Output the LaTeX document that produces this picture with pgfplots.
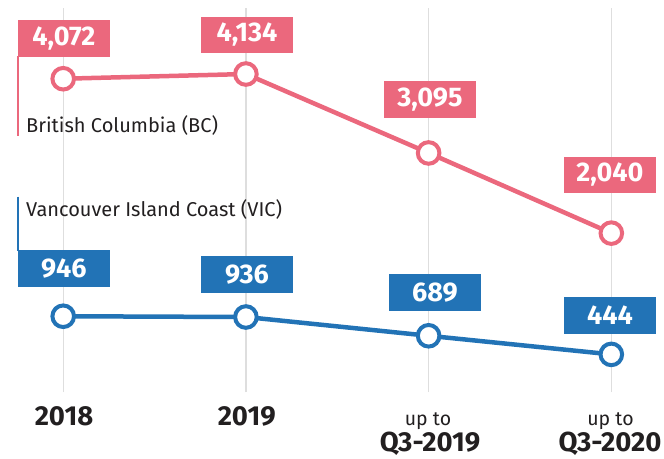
\documentclass[border=0pt]{standalone}
\usepackage{pgfplots}
\pgfplotsset{compat=1.18}
\usepackage{pgfplotstable}
\usepackage{fontspec}
\setmainfont{Fira Sans}
\definecolor{bcpink}{RGB}{235,104,125}
\definecolor{vicblue}{RGB}{34,115,182}
\definecolor{gridgray}{RGB}{222,222,222}
\definecolor{txt}{RGB}{34,31,32}

% x: category index, y: value, dx/dy: label box offset (bp)
\pgfplotstableread{
x y dx dy
0 4072 0.7 40.4
1 4134 1.0 39.0
2 3095 1.3 53.5
3 2040 -1.4 58.1
}\bcdata
\pgfplotstableread{
x y dx dy
0 946 0.7 47.8
1 936 1.1 42.6
2 689 6.3 43.4
3 444 -1.4 39.2
}\vicdata

\begin{document}
\begin{tikzpicture}
\begin{axis}[
  scale only axis,
  width=664bp, height=384bp,
  xmin=-0.3459, xmax=3.2884,
  ymin=-51, ymax=5003,
  axis line style={draw=none},
  xtick={0,1,2,3}, xticklabels={},
  ytick=\empty,
  major tick length=0pt,
  xmajorgrids,
  grid style={gridgray, line width=1.3bp},
  clip=false,
  point meta=explicit,
  /pgf/number format/.cd, 1000 sep={,}, fixed, precision=0,
]
\coordinate (O) at (rel axis cs:0,1);
\addplot[bcpink, line width=4.5bp, mark=*, mark size=10.8bp,
  mark options={fill=white, draw=bcpink, line width=4bp},
  visualization depends on={\thisrow{dx} \as \dx},
  visualization depends on={\thisrow{dy} \as \dy},
  nodes near coords={\pgfmathprintnumber[assume math mode=true]{\pgfplotspointmeta}},
  nodes near coords style={anchor=center, xshift=\dx bp, yshift=\dy bp,
    fill=bcpink, text=white, inner sep=0pt, minimum width=92bp, minimum height=36.7bp,
    font=\fontsize{27bp}{30bp}\selectfont\bfseries}]
  table[x=x, y=y, meta=y] {\bcdata};
\addplot[vicblue, line width=4.5bp, mark=*, mark size=10.8bp,
  mark options={fill=white, draw=vicblue, line width=4bp},
  visualization depends on={\thisrow{dx} \as \dx},
  visualization depends on={\thisrow{dy} \as \dy},
  nodes near coords={\pgfmathprintnumber[assume math mode=true]{\pgfplotspointmeta}},
  nodes near coords style={anchor=center, xshift=\dx bp, yshift=\dy bp,
    fill=vicblue, text=white, inner sep=0pt, minimum width=92bp, minimum height=36.7bp,
    font=\fontsize{27bp}{30bp}\selectfont\bfseries}]
  table[x=x, y=y, meta=y] {\vicdata};
\end{axis}
\coordinate (P0) at ([yshift=8bp]O);
\begin{scope}[shift={(P0)}, x=1bp, y=-1bp]
  \draw[bcpink, line width=1.2bp] (18,56) -- (18,136);
  \draw[vicblue, line width=1.2bp] (18,196.7) -- (18,251);
  \node[anchor=base west, inner sep=0pt, text=txt, font=\fontsize{20bp}{24bp}\selectfont] at (26,132.7) {British Columbia (BC)};
  \node[anchor=base west, inner sep=0pt, text=txt, font=\fontsize{20bp}{24bp}\selectfont] at (26,216.7) {Vancouver Island Coast (VIC)};
  \node[anchor=base, inner sep=0pt, text=txt, font=\fontsize{27.5bp}{30bp}\selectfont\bfseries] at (64,426) {2018};
  \node[anchor=base, inner sep=0pt, text=txt, font=\fontsize{27.5bp}{30bp}\selectfont\bfseries] at (246.7,426) {2019};
  \node[anchor=base, inner sep=0pt, text=txt, font=\fontsize{19.5bp}{24bp}\selectfont] at (428,426) {up to};
  \node[anchor=base, inner sep=0pt, text=txt, font=\fontsize{27.5bp}{30bp}\selectfont\bfseries] at (430,451.7) {Q3-2019};
  \node[anchor=base, inner sep=0pt, text=txt, font=\fontsize{19.5bp}{24bp}\selectfont] at (610.5,426) {up to};
  \node[anchor=base, inner sep=0pt, text=txt, font=\fontsize{27.5bp}{30bp}\selectfont\bfseries] at (610,451.7) {Q3-2020};
  \pgfresetboundingbox
  \path[use as bounding box] (0,0) rectangle (664,459);
\end{scope}
\end{tikzpicture}
\end{document}
